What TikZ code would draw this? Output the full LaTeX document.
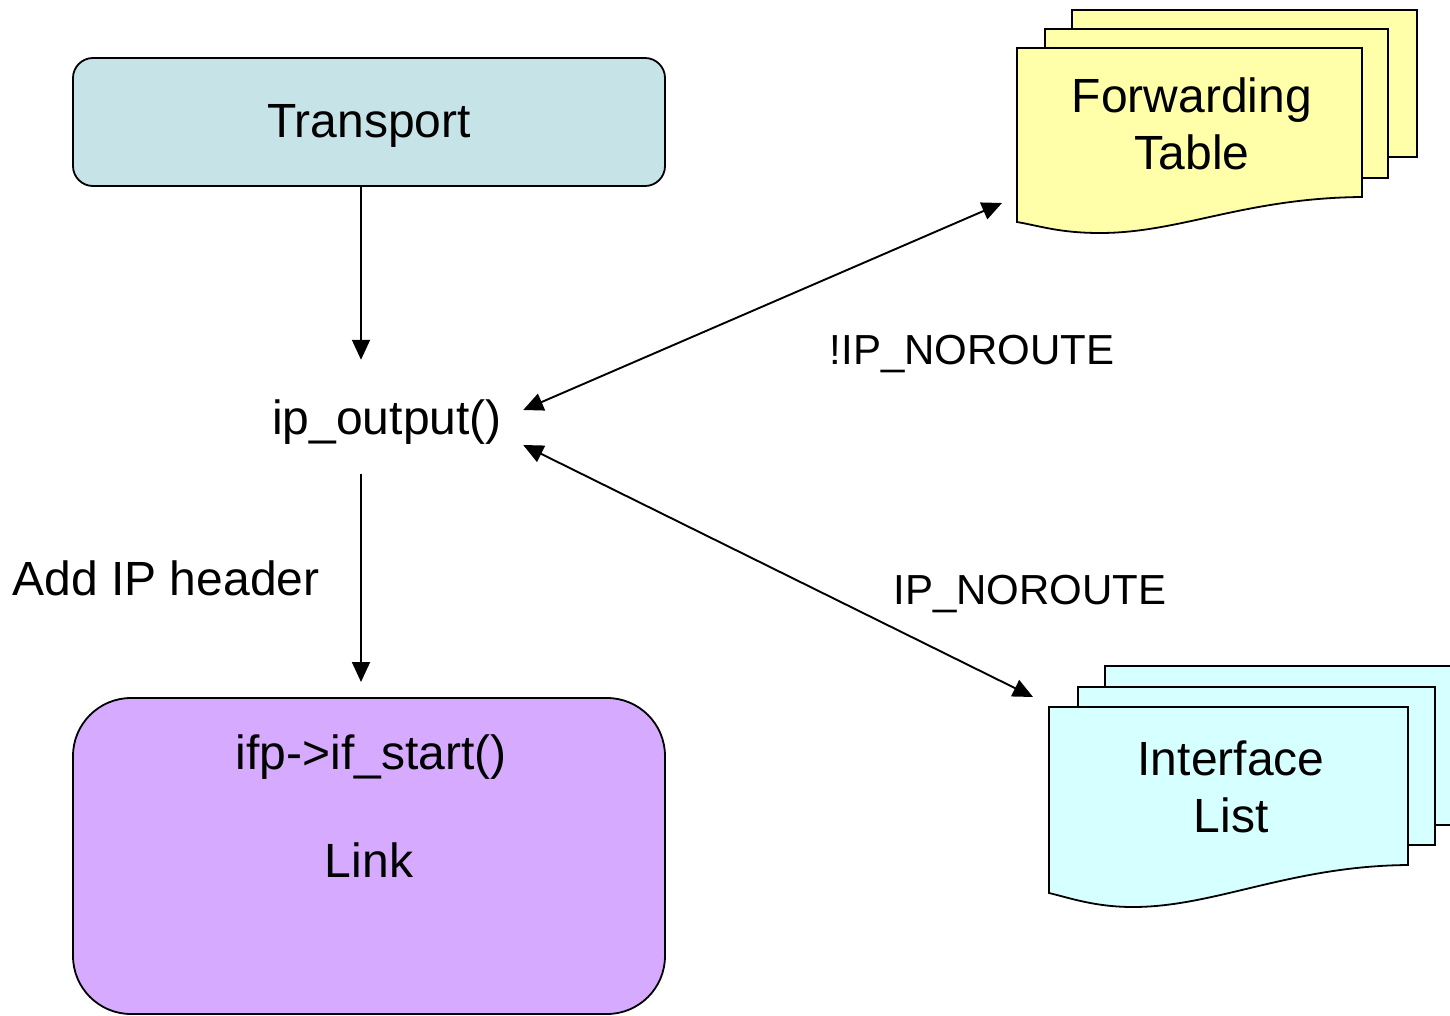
\documentclass[tikz,border=0pt]{standalone}
\usepackage{fontspec}
\setmainfont{Liberation Sans}
\usetikzlibrary{arrows.meta,calc}

\definecolor{transportfill}{RGB}{198,228,232}
\definecolor{linkfill}{RGB}{214,170,255}
\definecolor{tablefill}{RGB}{255,255,170}
\definecolor{iflistfill}{RGB}{214,255,255}

\tikzset{
  big/.style={font=\fontsize{48}{57}\selectfont},
  small/.style={font=\fontsize{42}{50}\selectfont},
  boxline/.style={draw=black, line width=1.8pt},
  layerbox/.style={boxline, rounded corners=20pt, fill=transportfill},
  sheet/.style={boxline, line join=miter},
  conn/.style={line width=1.9pt, -{Triangle[length=20pt,width=18pt]}},
  biconn/.style={line width=1.9pt, {Triangle[length=20pt,width=18pt]}-{Triangle[length=20pt,width=18pt]}},
}

\begin{document}
\begin{tikzpicture}[x=1pt,y=-1pt]
\useasboundingbox (0,0) rectangle (1450,1016);

% Transport layer
\draw[layerbox] (73,58) rectangle (665,186);
\node[big] (tr) at (369,126) {Transport};
\coordinate (trs) at (361,186);

% ip_output() routine
\node[big, minimum width=272pt, minimum height=114pt, inner sep=0pt] (ip) at (387,417) {};
\node[big] (ipt) at (387,422) {ip\_output()};

% Link layer
\draw[boxline, rounded corners=58pt, fill=linkfill] (73,698) rectangle (665,1014);
\node[big] (st) at (371,757) {ifp->if\_start()};
\node[big] (lk) at (369,860) {Link};
\coordinate (lkn) at (361,682);

% Forwarding table: three stacked sheets
\draw[sheet, fill=tablefill] (1072,10) rectangle (1417,157);
\draw[sheet, fill=tablefill] (1045,29) rectangle (1388,178);
\draw[sheet, fill=tablefill] (1017,48) -- (1362,48) -- (1362,197)
  .. controls (1245,198) and (1180,233) .. (1100,233)
  .. controls (1060,233) and (1040,226) .. (1017,222) -- cycle;
\node[big, align=center, text width=330pt, inner sep=0pt] (ft) at (1192,124)
  {Forwarding\\Table};
\coordinate (ftin) at (1002,203);

% Interface list: three stacked sheets
\draw[sheet, fill=iflistfill] (1105,666) rectangle (1462,825);
\draw[sheet, fill=iflistfill] (1078,687) rectangle (1435,845);
\draw[sheet, fill=iflistfill] (1049,707) -- (1408,707) -- (1408,865)
  .. controls (1290,866) and (1215,907) .. (1133,907)
  .. controls (1095,907) and (1070,898) .. (1049,893) -- cycle;
\node[big, align=center, text width=340pt, inner sep=0pt] (il) at (1231,787)
  {Interface\\List};
\coordinate (ilin) at (1033,697);

% Connectors
\draw[conn] (trs) -- ([xshift=-26pt]ip.north);
\draw[conn] ([xshift=-26pt]ip.south) -- (lkn);
\draw[biconn] ([yshift=7pt]ip.east) -- (ftin);
\draw[biconn] ([yshift=-28pt]ip.east) -- (ilin);

% Labels
\node[small] (nr1) at (972,354) {!IP\_NOROUTE};
\node[small] (nr2) at (1030,594) {IP\_NOROUTE};
\node[big] (hdr) at (166,578) {Add IP header};
\end{tikzpicture}
\end{document}
